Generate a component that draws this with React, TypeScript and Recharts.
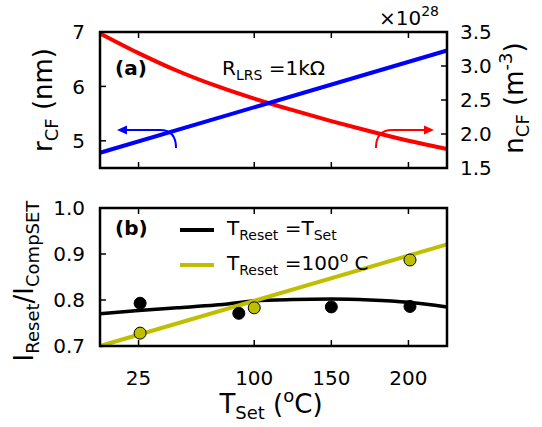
import {
  ComposedChart,
  Line,
  LineChart,
  Scatter,
  XAxis,
  YAxis,
} from "recharts";

const tGrid = [0, 25, 50, 75, 100, 125, 150, 175, 200, 225];

// panel (a)
const rcfT = [0, 225];
const rcfValues = [4.78, 6.66]; // nm
const ncfValues = [3.48, 3.19, 2.93, 2.71, 2.52, 2.35, 2.19, 2.04, 1.9, 1.78]; // x1e28 m^-3

// panel (b)
const fitSameValues = [0.77, 0.777, 0.783, 0.789, 0.798, 0.801, 0.802, 0.8, 0.795, 0.785];
const fit100T = [0, 225];
const fit100Values = [0.7, 0.921];
const measSameT = [26, 90, 150, 201];
const measSameValues = [0.793, 0.771, 0.785, 0.786];
const meas100T = [26, 100, 201];
const meas100Values = [0.728, 0.783, 0.887];

const xDomain = [0, 225];
const xTicks = [25, 100, 150, 200];
const rcfTicks = [5, 6, 7];
const ncfTicks = [1.5, 2, 2.5, 3, 3.5];
const ratioTicks = [0.7, 0.8, 0.9, 1.0];

const zip = (ts: number[], vs: number[]) => ts.map((t, i) => ({ t, v: vs[i] }));

const FONT = "DejaVu Sans";
const OLIVE = "#bfbf00";
const tickStyle = { fill: "#000", fontSize: 20, fontFamily: FONT };
const tickLine = { stroke: "#000", strokeWidth: 1.5 };
const blank = () => "";

// plot boxes (page px) of the two panels, shared by the charts' margins and the frame overlay
const PLOT_L = 100;
const PLOT_R = 447;
const TOP_BOX = { top: 32, bottom: 168 };
const BOT_BOX = { top: 208, bottom: 346 };
const frameX = (t: number) => PLOT_L + ((t - xDomain[0]) / (xDomain[1] - xDomain[0])) * (PLOT_R - PLOT_L);

function Dot({ cx, cy, fill, edge }: any) {
  return <circle cx={cx} cy={cy} r={6} fill={fill} stroke={edge} strokeWidth={1} />;
}

function Frame({ top, bottom }: { top: number; bottom: number }) {
  return (
    <g stroke="#000">
      <rect x={PLOT_L} y={top} width={PLOT_R - PLOT_L} height={bottom - top} fill="none" strokeWidth={2.5} />
      {xTicks.map((t) => (
        <g key={t} strokeWidth={1.5}>
          <line x1={frameX(t)} y1={top} x2={frameX(t)} y2={top + 6} />
          <line x1={frameX(t)} y1={bottom} x2={frameX(t)} y2={bottom - 6} />
        </g>
      ))}
    </g>
  );
}

export default function App() {
  return (
    <div style={{ position: "absolute", left: 0, top: 0, width: 542, height: 427, background: "#fff" }}>
      <div style={{ position: "absolute", left: 0, top: 0 }}>
        <LineChart width={542} height={190}
          margin={{ top: TOP_BOX.top, right: 0, bottom: 190 - TOP_BOX.bottom, left: 0 }}>
          <XAxis dataKey="t" type="number" domain={xDomain} ticks={xTicks} hide />
          <YAxis yAxisId="left" type="number" domain={[4.5, 7]} ticks={rcfTicks} interval={0} width={PLOT_L}
            axisLine={false} tickLine={tickLine} tickSize={-6} tickMargin={21} tick={tickStyle} />
          <YAxis yAxisId="right" orientation="right" type="number" domain={[1.5, 3.5]} ticks={ncfTicks}
            interval={0} width={542 - PLOT_R} axisLine={false} tickLine={tickLine} tickSize={-6} tickMargin={19}
            tick={tickStyle} tickFormatter={(v: number) => v.toFixed(1)} />
          <Line yAxisId="right" data={zip(tGrid, ncfValues)} dataKey="v" type="monotone" stroke="#ff0000"
            strokeWidth={4} dot={false} isAnimationActive={false} />
          <Line yAxisId="left" data={zip(rcfT, rcfValues)} dataKey="v" type="linear" stroke="#0000ff"
            strokeWidth={4} dot={false} isAnimationActive={false} />
        </LineChart>
      </div>

      <div style={{ position: "absolute", left: 0, top: 190 }}>
        <ComposedChart width={542} height={237}
          margin={{ top: BOT_BOX.top - 190, right: 0, bottom: 1, left: 0 }}>
          <XAxis dataKey="t" type="number" domain={xDomain} ticks={xTicks} interval={0}
            height={427 - BOT_BOX.bottom - 1} axisLine={false} tickLine={false} tickMargin={19} tick={tickStyle} />
          <YAxis dataKey="v" type="number" domain={[0.7, 1.0]} ticks={ratioTicks} interval={0} width={PLOT_L}
            axisLine={false} tickLine={tickLine} tickSize={-6} tickMargin={21} tick={tickStyle}
            tickFormatter={(v: number) => v.toFixed(1)} />
          <YAxis yAxisId="r" orientation="right" type="number" domain={[0.7, 1.0]} ticks={ratioTicks}
            interval={0} width={542 - PLOT_R} axisLine={false} tickLine={tickLine} tickSize={-6}
            tickFormatter={blank} />
          <Line data={zip(tGrid, fitSameValues)} dataKey="v" type="monotone" stroke="#000"
            strokeWidth={3.5} dot={false} isAnimationActive={false} />
          <Line data={zip(fit100T, fit100Values)} dataKey="v" type="linear" stroke={OLIVE}
            strokeWidth={4} dot={false} isAnimationActive={false} />
          <Scatter data={zip(measSameT, measSameValues)} dataKey="v" shape={<Dot fill="#000" edge="#000" />}
            isAnimationActive={false} />
          <Scatter data={zip(meas100T, meas100Values)} dataKey="v" shape={<Dot fill={OLIVE} edge="#000" />}
            isAnimationActive={false} />
        </ComposedChart>
      </div>

      <svg width={542} height={427} style={{ position: "absolute", left: 0, top: 0, pointerEvents: "none" }}>
        <Frame {...TOP_BOX} />
        <Frame {...BOT_BOX} />

        <g fontFamily={FONT} fill="#000">
          <text x={115} y={75} fontSize={20} fontWeight="bold">(a)</text>
          <text x={222} y={75} fontSize={20}>
            R<tspan fontSize={14} dy={5}>LRS</tspan>
            <tspan dy={-5}> =1kΩ</tspan>
          </text>
          <text x={439} y={25} fontSize={20} textAnchor="end">
            ×10<tspan fontSize={14} dy={-9}>28</tspan>
          </text>
          <text x={115} y={235} fontSize={20} fontWeight="bold">(b)</text>

          {/* legend of panel (b) */}
          <line x1={180} y1={230} x2={214} y2={230} stroke="#000" strokeWidth={4} />
          <text x={227} y={235} fontSize={20}>
            T<tspan fontSize={14} dy={5}>Reset</tspan>
            <tspan dy={-5}> =T</tspan>
            <tspan fontSize={14} dy={5}>Set</tspan>
          </text>
          <line x1={180} y1={265} x2={214} y2={265} stroke={OLIVE} strokeWidth={4} />
          <text x={227} y={270} fontSize={20}>
            T<tspan fontSize={14} dy={5}>Reset</tspan>
            <tspan dy={-5}> =100</tspan>
            <tspan fontSize={14} dy={-8}>o</tspan>
            <tspan dy={8}> C</tspan>
          </text>

          <text transform="translate(52,100) rotate(-90)" textAnchor="middle" fontSize={26}>
            r<tspan fontSize={18} dy={6}>CF</tspan>
            <tspan dy={-6}> (nm)</tspan>
          </text>
          <text transform="translate(523,98) rotate(-90)" textAnchor="middle" fontSize={26}>
            n<tspan fontSize={18} dy={6}>CF</tspan>
            <tspan dy={-6}> (m</tspan>
            <tspan fontSize={18} dy={-11}>-3</tspan>
            <tspan dy={11}>)</tspan>
          </text>
          <text transform="translate(33,281) rotate(-90)" textAnchor="middle" fontSize={26}>
            I<tspan fontSize={18} dy={6}>Reset</tspan>
            <tspan dy={-6}>/I</tspan>
            <tspan fontSize={18} dy={6}>CompSET</tspan>
          </text>
          <text x={271} y={413} textAnchor="middle" fontSize={26}>
            T<tspan fontSize={18} dy={6}>Set</tspan>
            <tspan dy={-6}> (</tspan>
            <tspan fontSize={18} dy={-11}>o</tspan>
            <tspan dy={11}>C)</tspan>
          </text>
        </g>

        <path d="M176,148 Q176,130 160,130 L124,130" fill="none" stroke="#0000ff" strokeWidth={2} />
        <polygon points="117,130 127,125.5 127,134.5" fill="#0000ff" />
        <path d="M376,148 Q376,130 392,130 L427,130" fill="none" stroke="#ff0000" strokeWidth={2} />
        <polygon points="434,130 424,125.5 424,134.5" fill="#ff0000" />
      </svg>
    </div>
  );
}
